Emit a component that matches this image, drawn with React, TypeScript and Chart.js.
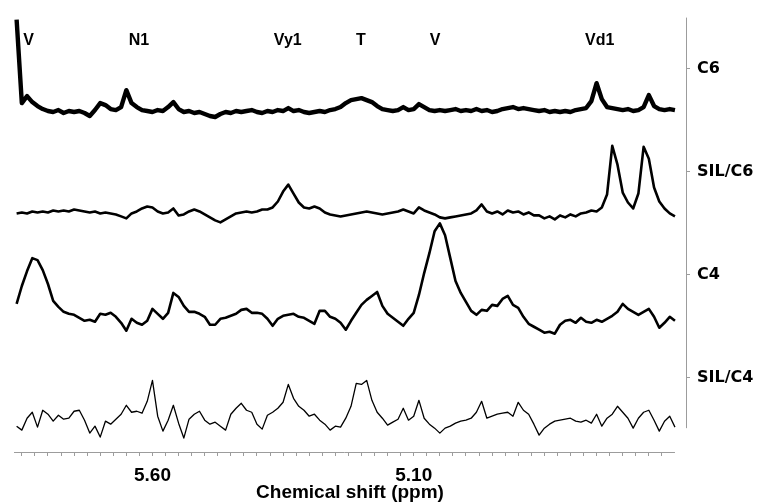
import React, { useEffect, useRef } from 'react';
import { Chart, registerables } from 'chart.js';

Chart.register(...registerables);

// Chemical shift sampling positions (ppm)
const ppm = [
  5.86, 5.85, 5.84, 5.83, 5.82, 5.81, 5.8, 5.79, 5.78, 5.77,
  5.76, 5.75, 5.74, 5.73, 5.72, 5.71, 5.7, 5.69, 5.68, 5.67,
  5.66, 5.65, 5.64, 5.63, 5.62, 5.61, 5.6, 5.59, 5.58, 5.57,
  5.56, 5.55, 5.54, 5.53, 5.52, 5.51, 5.5, 5.49, 5.48, 5.47,
  5.46, 5.45, 5.44, 5.43, 5.42, 5.41, 5.4, 5.39, 5.38, 5.37,
  5.36, 5.35, 5.34, 5.33, 5.32, 5.31, 5.3, 5.29, 5.28, 5.27,
  5.26, 5.25, 5.24, 5.23, 5.22, 5.21, 5.2, 5.19, 5.18, 5.17,
  5.16, 5.15, 5.14, 5.13, 5.12, 5.11, 5.1, 5.09, 5.08, 5.07,
  5.06, 5.05, 5.04, 5.03, 5.02, 5.01, 5.0, 4.99, 4.98, 4.97,
  4.96, 4.95, 4.94, 4.93, 4.92, 4.91, 4.9, 4.89, 4.88, 4.87,
  4.86, 4.85, 4.84, 4.83, 4.82, 4.81, 4.8, 4.79, 4.78, 4.77,
  4.76, 4.75, 4.74, 4.73, 4.72, 4.71, 4.7, 4.69, 4.68, 4.67,
  4.66, 4.65, 4.64, 4.63, 4.62, 4.61, 4.6,
];

// Intensities (relative to each trace's own baseline)
const c6 = [
  93, 9, 16, 10, 6, 3, 1, 0, 2, -1,
  1, 0, 1, -1, -4, 2, 9, 7, 3, 2,
  5, 22, 9, 5, 2, 1, 0, 2, 1, 5,
  10, 3, 0, 1, -1, 0, -2, -4, -5, -2,
  0, -1, 1, 0, 1, 2, 0, -1, 1, 0,
  2, 1, 4, 1, 2, 0, -1, 0, 1, 0,
  2, 3, 5, 9, 12, 13, 14, 12, 10, 6,
  3, 2, 1, 2, 5, 2, 3, 8, 5, 2,
  1, 2, 1, 2, 3, 1, 2, 1, 3, 1,
  2, 0, 1, 3, 4, 5, 3, 4, 3, 2,
  1, 2, 0, 1, 0, 1, 0, 2, 3, 4,
  11, 29, 13, 5, 4, 3, 2, 3, 1, 2,
  5, 17, 6, 3, 2, 3, 2,
];

const silC6 = [
  0, 1, 0, 2, 1, 2, 1, 3, 2, 3,
  2, 4, 3, 2, 1, 2, 0, 1, 0, -1,
  -3, -5, 0, 2, 5, 7, 6, 2, 0, 1,
  5, -2, -1, 2, 4, 2, -1, -4, -7, -9,
  -6, -3, 0, 1, 2, 1, 2, 4, 4, 6,
  12, 22, 29, 20, 11, 6, 5, 7, 5, 1,
  -1, -2, -3, -2, -1, 0, 1, 2, 1, 0,
  -1, 0, 1, 2, 4, 2, 0, 6, 3, 1,
  -1, -4, -5, -4, -3, -2, -1, 0, 3, 9,
  2, 0, 2, -1, 3, 1, 2, -1, 1, -2,
  -2, -5, -3, -6, -2, -4, -1, -3, 0, 1,
  3, 2, 6, 19, 68, 49, 21, 11, 5, 20,
  67, 55, 26, 12, 5, 0, -3,
];

const c4 = [
  15, 33, 48, 61, 59, 49, 35, 18, 12, 7,
  5, 4, 1, -2, -1, -3, 5, 4, 6, 2,
  -4, -12, 0, -4, -6, -2, 10, 5, 0, 6,
  26, 22, 13, 7, 7, 5, 2, -6, -6, 0,
  1, 3, 5, 9, 10, 6, 6, 5, 0, -7,
  0, 3, 4, 5, 2, 1, -2, -5, 8, 8,
  2, 0, -4, -11, -2, 6, 14, 19, 23, 27,
  13, 5, 1, -3, -7, 0, 6, 24, 46, 66,
  88, 96, 84, 61, 38, 26, 17, 8, 4, 9,
  8, 14, 13, 20, 23, 14, 11, 2, -5, -8,
  -11, -14, -13, -15, -6, -2, -1, -4, 1, -3,
  -4, -1, -3, 0, 3, 7, 15, 10, 7, 4,
  7, 10, 2, -9, -4, 2, -2,
];

const silC4 = [
  -6, -10, 2, 8, -7, 10, 6, -1, 5, 1,
  2, 9, 10, 0, -13, -6, -17, -1, -4, 1,
  6, 15, 8, 9, 7, 19, 40, 4, -11, 0,
  15, -3, -18, 1, 6, 9, 0, -4, -2, -6,
  -10, 6, 12, 17, 10, 8, -4, -9, 5, 8,
  12, 18, 36, 22, 14, 10, 4, 6, 0, -4,
  -10, -6, -7, 2, 14, 37, 36, 40, 20, 8,
  2, -5, -2, 1, 12, 0, 4, 20, 2, -4,
  -8, -13, -8, -6, -3, -1, 0, 2, 8, 19,
  2, 4, 6, 7, 8, 4, 18, 10, 6, -4,
  -15, -8, -4, -1, 0, 1, 2, -1, -2, 0,
  -3, 6, -6, 2, 6, 14, 8, 2, -8, 2,
  8, 10, 0, -11, -1, 4, -7,
];

const traceNames = ['C6', 'SIL/C6', 'C4', 'SIL/C4'];
const traceSeries = [c6, silC6, c4, silC4];
const traceOffsets = [342, 240, 134, 32];
const traceWidths = [4.4, 2.6, 2.6, 1.3];
const labelLevels = [385.5, 282, 178.5, 75];

const peakLabels = ['V', 'N1', 'Vy1', 'T', 'V', 'Vd1'];
const peakPositions = [5.837, 5.626, 5.341, 5.201, 5.059, 4.744];

const tickValues = [5.6, 5.1];
const tickLabels = ['5.60', '5.10'];

const AXIS_GRAY = '#9c9c9c';

const decorPlugin = {
  id: 'decor',
  afterDraw(chart: any) {
    const { ctx, chartArea, scales } = chart;
    const xs = scales.x;
    const ys = scales.y;
    ctx.save();
    ctx.strokeStyle = AXIS_GRAY;
    ctx.lineWidth = 1;
    const yb = Math.round(chartArea.bottom) + 0.5;
    ctx.beginPath();
    ctx.moveTo(xs.getPixelForValue(5.865), yb);
    ctx.lineTo(xs.getPixelForValue(4.6), yb);
    ctx.stroke();
    const xr = Math.round(chartArea.right) + 0.5;
    ctx.beginPath();
    ctx.moveTo(xr, ys.getPixelForValue(437));
    ctx.lineTo(xr, ys.getPixelForValue(24));
    ctx.stroke();
    ctx.fillStyle = '#000';
    ctx.font = 'bold 16px "Liberation Sans"';
    ctx.textAlign = 'center';
    ctx.textBaseline = 'alphabetic';
    peakLabels.forEach((t, i) => {
      ctx.fillText(t, xs.getPixelForValue(peakPositions[i]), ys.getPixelForValue(409));
    });
    ctx.restore();
  },
};

export default function App() {
  const ref = useRef<HTMLCanvasElement>(null);

  useEffect(() => {
    if (!ref.current) return;
    const datasets = traceSeries.map((series, k) => ({
      label: traceNames[k],
      data: series.map((v, i) => ({ x: ppm[i], y: v + traceOffsets[k] })),
      borderColor: '#000',
      backgroundColor: '#000',
      borderWidth: traceWidths[k],
      pointRadius: 0,
      tension: 0,
      fill: false,
      borderJoinStyle: 'round' as const,
    }));

    const chart = new Chart(ref.current, {
      type: 'line',
      data: { datasets },
      plugins: [decorPlugin],
      options: {
        responsive: false,
        animation: false,
        events: [],
        layout: { padding: { left: 14, top: 14, right: 0, bottom: 0 } },
        plugins: { legend: { display: false }, tooltip: { enabled: false } },
        scales: {
          x: {
            type: 'linear',
            reverse: true,
            min: 4.57888,
            max: 5.865,
            border: { display: false },
            grid: {
              display: true,
              drawOnChartArea: false,
              drawTicks: true,
              tickLength: 4,
              color: AXIS_GRAY,
            },
            afterBuildTicks: (axis: any) => {
              const t: { value: number }[] = [];
              for (let k = 0; k <= 49; k++) t.push({ value: Math.round((5.85 - k * 0.025) * 1000) / 1000 });
              axis.ticks = t;
            },
            afterFit: (axis: any) => {
              axis.height = 52;
            },
            ticks: {
              autoSkip: false,
              maxRotation: 0,
              padding: 8,
              color: '#000',
              font: { family: 'Liberation Sans', size: 19, weight: 'bold' },
              callback: (value: any) => {
                const idx = tickValues.findIndex((v) => Math.abs(v - Number(value)) < 1e-6);
                return idx >= 0 ? tickLabels[idx] : '';
              },
            },
            title: {
              display: true,
              text: 'Chemical shift (ppm)',
              color: '#000',
              font: { family: 'Liberation Sans', size: 19, weight: 'bold' },
              padding: { top: 0, bottom: 0 },
            },
          },
          y: {
            type: 'linear',
            position: 'right',
            min: 0,
            max: 438,
            border: { display: false },
            grid: {
              display: true,
              drawOnChartArea: false,
              drawTicks: true,
              tickLength: 4,
              color: AXIS_GRAY,
            },
            afterBuildTicks: (axis: any) => {
              axis.ticks = labelLevels.map((v) => ({ value: v }));
            },
            afterFit: (axis: any) => {
              axis.width = 72;
            },
            ticks: {
              autoSkip: false,
              padding: 7,
              color: '#000',
              font: { family: 'DejaVu Sans', size: 16, weight: 'bold' },
              callback: (value: any) => {
                const idx = labelLevels.findIndex((v) => Math.abs(v - Number(value)) < 1e-6);
                return idx >= 0 ? traceNames[idx] : '';
              },
            },
          },
        },
      },
    });
    return () => chart.destroy();
  }, []);

  return (
    <div style={{ position: 'absolute', left: 0, top: 0, width: 758, height: 504, background: '#fff' }}>
      <canvas ref={ref} width={758} height={504} style={{ display: 'block' }} />
    </div>
  );
}
